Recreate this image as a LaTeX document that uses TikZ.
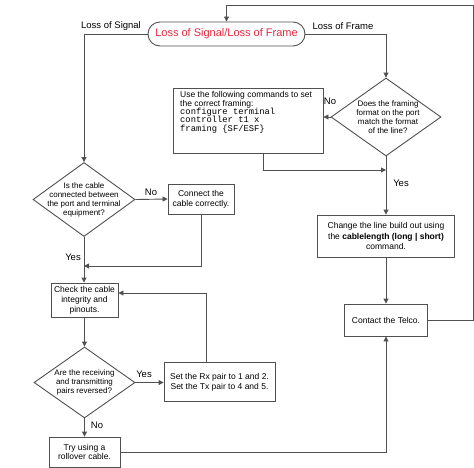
\documentclass[tikz,border=0pt]{standalone}
\usepackage{fontspec}
\setmainfont{Liberation Sans}
\newfontfamily\monofnt{Liberation Mono}
\usetikzlibrary{arrows.meta,shapes.geometric}
\definecolor{lncol}{HTML}{505050}
\definecolor{tred}{RGB}{228,40,62}
\begin{document}
\begin{tikzpicture}[x=1pt,y=-1pt,
 box/.style={draw=lncol,line width=0.9pt,inner sep=0pt,align=center,font=\fontsize{8.5}{9.6}\selectfont},
 dia/.style={draw=lncol,line width=0.9pt,diamond,inner sep=0pt},
 dtext/.style={align=center,font=\fontsize{8}{9}\selectfont,inner sep=0pt},
 lbl/.style={font=\fontsize{9.5}{11}\selectfont,inner sep=0pt},
 arr/.style={draw=lncol,line width=0.9pt,-{Triangle[length=5pt,width=5pt]}},
 plain/.style={draw=lncol,line width=0.9pt}]
\clip (0,0) rectangle (474,467);
\fill[white] (0,0) rectangle (474,467);

% terminator
\node[draw=lncol,line width=0.9pt,rounded corners=12pt,minimum width=157pt,minimum height=24pt,inner sep=0pt,
  font=\fontsize{11}{12}\selectfont,text=tred] (term) at (226.5,34) {Loss of Signal/Loss of Frame};
\node[lbl] (lsig) at (111,26) {Loss of Signal};
\node[lbl] (lfrm) at (343,26) {Loss of Frame};

% right branch
\node[dia,minimum width=110pt,minimum height=78pt] (fr) at (386,117) {};
\node[dtext] (frt) at (388,117) {Does the framing\\format on the port\\match the format\\of the line?};
\node[box,minimum width=150pt,minimum height=65pt] (set) at (248,120.5) {};
\node[anchor=north west,inner sep=0pt,align=left,font=\fontsize{8.5}{8.3}\selectfont] (sett) at (180,91.5)
 {Use the following commands to set\\the correct framing:\\{\monofnt\fontsize{8.8}{8.3}\selectfont configure terminal}\\{\monofnt\fontsize{8.8}{8.3}\selectfont controller t1 x}\\{\monofnt\fontsize{8.8}{8.3}\selectfont framing \{SF/ESF\}}};
\node[box,minimum width=137pt,minimum height=42pt,font=\fontsize{8.5}{10.5}\selectfont] (chg) at (386,236)
 {Change the line build out using\\the \textbf{cablelength (long | short)}\\command.};
\node[box,minimum width=83pt,minimum height=32pt] (telco) at (386,320) {Contact the Telco.};

% left branch
\node[dia,minimum width=102pt,minimum height=74pt] (d1) at (84,199.5) {};
\node[dtext] (d1t) at (84,199.5) {Is the cable\\connected between\\the port and terminal\\equipment?};
\node[box,minimum width=66pt,minimum height=30pt] (conn) at (201,199) {Connect the\\cable correctly.};
\node[box,minimum width=67pt,minimum height=34pt,font=\fontsize{8.5}{10}\selectfont] (chk) at (84.5,300) {Check the cable\\integrity and\\pinouts.};
\node[dia,minimum width=101pt,minimum height=71pt] (d2) at (84.5,382.5) {};
\node[dtext] (d2t) at (84.5,382.5) {Are the receiving\\and transmitting\\pairs reversed?};
\node[box,minimum width=111pt,minimum height=39pt] (rx) at (219.5,382) {Set the Rx pair to 1 and 2.\\Set the Tx pair to 4 and 5.};
\node[box,minimum width=71pt,minimum height=30pt] (try) at (84.5,452) {Try using a\\rollover cable.};

% labels
\node[lbl] (lno1) at (330,101) {No};
\node[lbl] (lyes1) at (401,183) {Yes};
\node[lbl] (lno2) at (151,192) {No};
\node[lbl] (lyes2) at (73,257) {Yes};
\node[lbl] (lyes3) at (144,374) {Yes};
\node[lbl] (lno3) at (97,425) {No};

% coordinates
\coordinate (tr) at (473,5);
\coordinate (j1) at (386,170);
\coordinate (j2) at (84,266);

% connectors
\draw[arr] (telco.east) -| (tr) -| (term.north);
\draw[arr] (term.east) -| (fr.north);
\draw[arr] (term.west) -| (d1.north);
\draw[arr] (fr.west) -- (fr.west -| set.east);
\draw[arr] ([xshift=15pt]set.south) |- (j1);
\draw[arr] (fr.south) -- (chg.north);
\draw[arr] (chg.south) -- (telco.north);
\draw[arr] (try.east) -| (telco.south);
\draw[arr] (d1.east) -- (conn.west);
\draw[arr] (conn.south) |- (j2);
\draw[arr] (d1.south) -- (d1.south |- chk.north);
\draw[arr] (chk.south) -- (chk.south |- d2.north);
\draw[arr] (d2.east) -- (d2.east -| rx.west);
\draw[arr] ([xshift=-13.5pt]rx.north) |- ([yshift=7pt]chk.east);
\draw[arr] (d2.south) -- (d2.south |- try.north);
\end{tikzpicture}
\end{document}
